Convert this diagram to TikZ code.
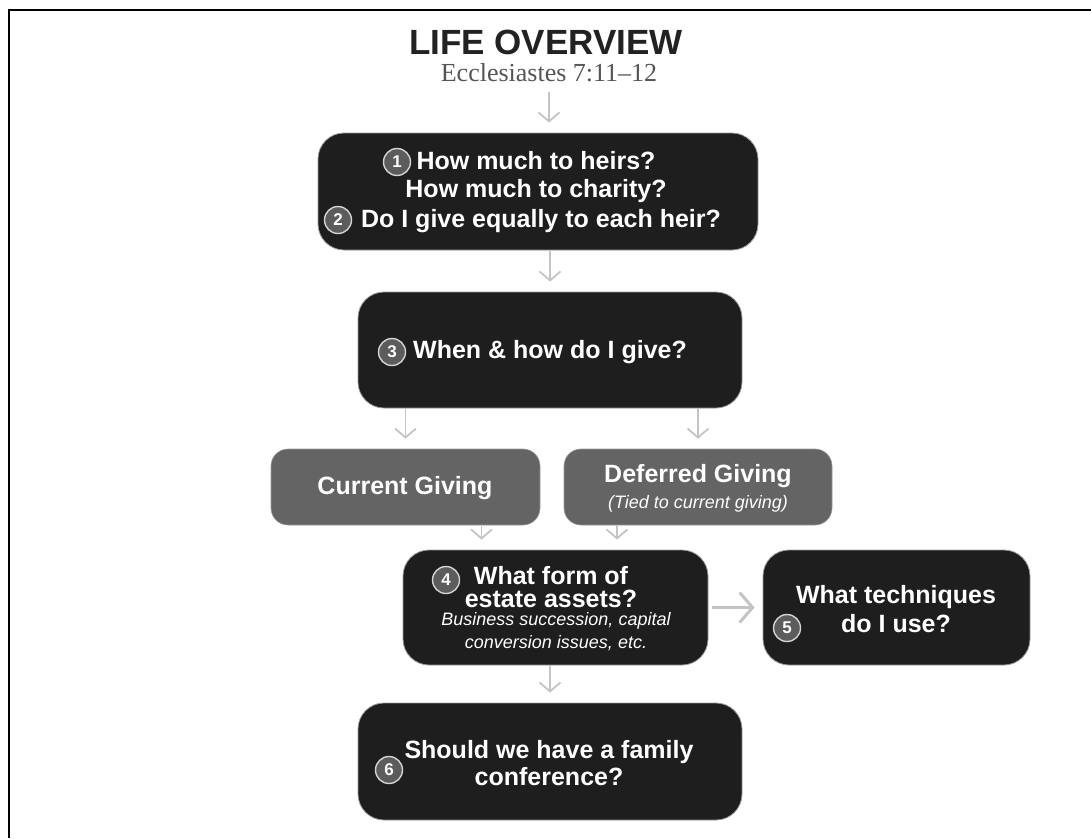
\documentclass[tikz,border=0pt]{standalone}
\usepackage{fontspec}
\setmainfont{Liberation Sans}
\newfontfamily\serifsub{Liberation Serif}
\usetikzlibrary{arrows.meta}
\definecolor{boxdark}{HTML}{1E1E1E}
\definecolor{boxmid}{HTML}{646464}
\definecolor{arrowgray}{HTML}{C4C4C4}
\definecolor{circfill}{HTML}{5C5C5C}
\definecolor{circline}{HTML}{D4D4D4}
\definecolor{subgray}{HTML}{555555}
\definecolor{titlegray}{HTML}{222222}
\definecolor{edgegray}{HTML}{9A9A9A}
\begin{document}
\begin{tikzpicture}[x=1pt,y=-1pt,
  darkbox/.style={draw=edgegray, line width=0.8pt, fill=boxdark, rounded corners=26pt, inner sep=0pt},
  midbox/.style={draw=edgegray, line width=0.6pt, fill=boxmid, rounded corners=17pt, inner sep=0pt},
  qtext/.style={text=white, font=\fontsize{25}{28.5}\selectfont\bfseries, align=center, inner sep=0pt},
  itext/.style={text=white, font=\fontsize{18}{23}\selectfont\itshape, align=center, inner sep=0pt},
  num/.style={circle, fill=circfill, draw=circline, line width=1.4pt, minimum size=27pt, inner sep=0pt, text=white, font=\fontsize{17}{17}\selectfont\bfseries},
  arr/.style={draw=arrowgray, line width=1.8pt, -{Straight Barb[length=9pt,width=21pt]}, shorten >=10pt},
]
\useasboundingbox (0,0) rectangle (1091,838);
\draw[line width=2pt] (1091,10) -- (9,10) -- (9,838);

% title
\node[inner sep=0pt, text=titlegray, font=\fontsize{35}{35}\selectfont\bfseries] (title) at (546,42) {LIFE OVERVIEW};
\node[inner sep=0pt, text=subgray, font=\serifsub\fontsize{26}{26}\selectfont] (sub) at (549,73) {Ecclesiastes 7:11–12};

% boxes
\node[darkbox, minimum width=440pt, minimum height=117pt] (b1) at (538,191.5) {};
\node[darkbox, minimum width=384pt, minimum height=116pt] (b3) at (550,350) {};
\node[midbox, minimum width=269pt, minimum height=76pt] (cur) at (405.5,487) {};
\node[midbox, minimum width=268pt, minimum height=76pt] (def) at (698,487) {};
\node[darkbox, minimum width=305pt, minimum height=115pt] (b4) at (555.5,607.5) {};
\node[darkbox, minimum width=267pt, minimum height=115pt] (b5) at (896.5,607.5) {};
\node[darkbox, minimum width=384pt, minimum height=117pt] (b6) at (550,761.5) {};

% texts
\node[qtext] (t1) at (536,177) {How much to heirs?\\How much to charity?};
\node[qtext] (t2) at (541,221) {Do I give equally to each heir?};
\node[qtext] (t3) at (550,352) {When \& how do I give?};
\node[qtext] (tc) at (405,488) {Current Giving};
\node[qtext] (td) at (698,476) {Deferred Giving};
\node[itext] (tdi) at (698,504) {(Tied to current giving)};
\node[qtext, font=\fontsize{25}{23.5}\selectfont\bfseries] (t4) at (551,587) {What form of\\estate assets?};
\node[itext] (t4i) at (556,632) {Business succession, capital\\conversion issues, etc.};
\node[qtext] (t5) at (896,609) {What techniques\\do I use?};
\node[qtext, font=\fontsize{25}{27}\selectfont\bfseries] (t6) at (549,763) {Should we have a family\\conference?};

% numbers
\node[num] (n1) at (397,162) {1};
\node[num] (n2) at (338,220) {2};
\node[num] (n3) at (392,352) {3};
\node[num] (n4) at (446,580) {4};
\node[num] (n5) at (787,628) {5};
\node[num] (n6) at (389,770) {6};

% arrows
\draw[arr] ([yshift=-10pt]sub.south) -- (sub.south |- b1.north);
\draw[arr] (b3.north |- b1.south) -- (b3.north);
\draw[arr] (cur.north |- b3.south) -- (cur.north);
\draw[arr] (def.north |- b3.south) -- (def.north);
\draw[arr] ([xshift=76pt]cur.south) -- ([xshift=76pt]cur.south |- b4.north);
\draw[arr] ([xshift=-81pt]def.south) -- ([xshift=-81pt]def.south |- b4.north);
\draw[arr] (b6.north |- b4.south) -- (b6.north);
\draw[arr, line width=3pt, -{Straight Barb[length=13pt,width=30pt]}, shorten >=8pt, shorten <=4pt] (b4.east) -- (b4.east -| b5.west);
\end{tikzpicture}
\end{document}
